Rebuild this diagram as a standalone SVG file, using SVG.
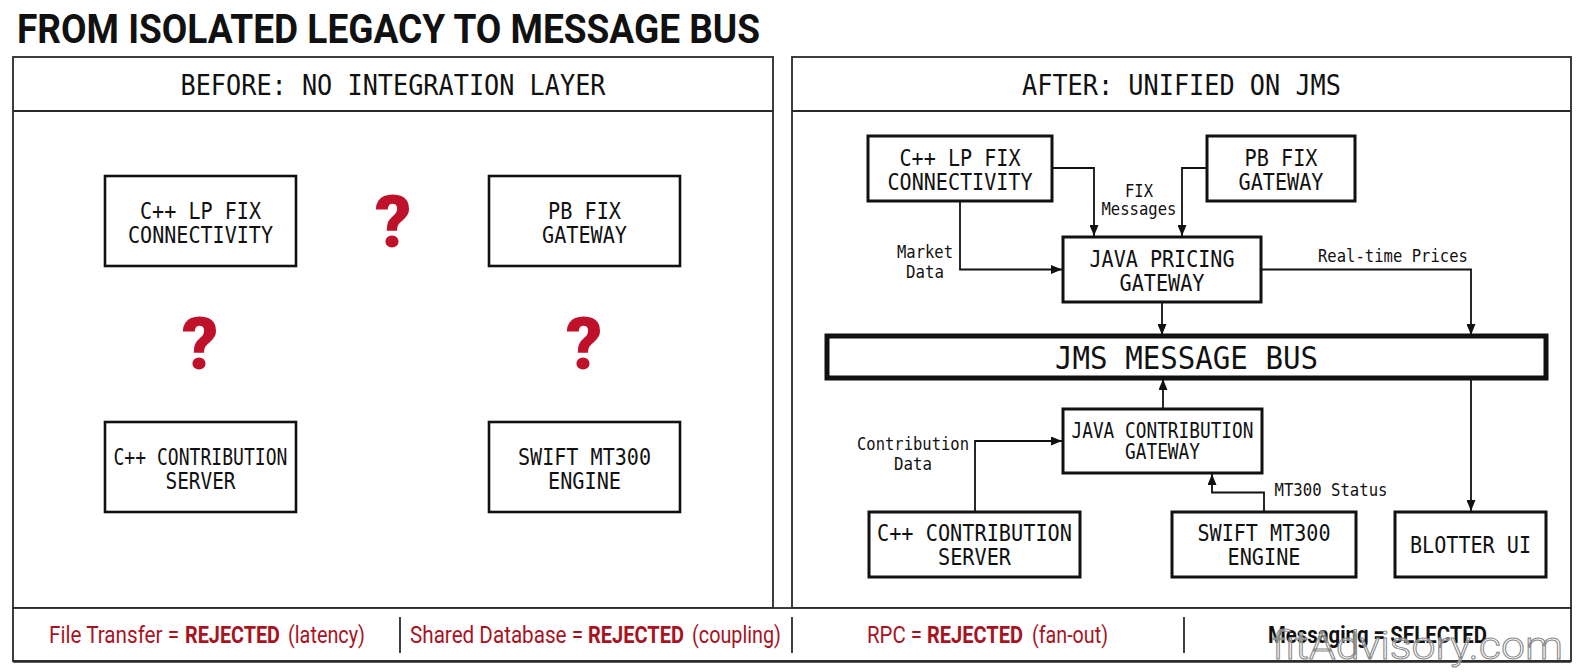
<svg xmlns="http://www.w3.org/2000/svg" width="1584" height="672" viewBox="0 0 1584 672">
<defs>
<marker id="ah" viewBox="0 0 11 9" refX="11" refY="4.5" markerWidth="11" markerHeight="9" markerUnits="userSpaceOnUse" orient="auto"><path d="M0,0 L11,4.5 L0,9 z" fill="#111"/></marker>
<style>
.panel{fill:#fff;stroke:#2a2a2a;stroke-width:1.8}
.line{fill:none;stroke:#2a2a2a;stroke-width:1.8}
.box{fill:#fff;stroke:#111;stroke-width:2.6}
.box3{fill:#fff;stroke:#111;stroke-width:3}
.bus{fill:#fff;stroke:#111;stroke-width:5}
.mono{font-family:"DejaVu Sans Mono","Liberation Mono",monospace;fill:#111;text-anchor:middle}
.hdr{font-size:28px}
.node{font-size:23px}
.small{font-size:20.5px}
.big{font-size:32px}
.lbl{font-size:17.5px}
.conn{fill:none;stroke:#111;stroke-width:1.8}
.q{font-family:Roboto,"Liberation Sans",sans-serif;font-weight:900;font-size:72px;fill:#c0112b;text-anchor:middle}
.foot{font-family:Roboto,"Liberation Sans",sans-serif;font-size:24px;fill:#a8131f}
.b{font-weight:700}
</style>
</defs>
<rect width="1584" height="672" fill="#fff"/>
<text x="17" y="43" font-family="Roboto,'Liberation Sans',sans-serif" font-weight="700" font-size="40" fill="#111" textLength="743" lengthAdjust="spacingAndGlyphs">FROM ISOLATED LEGACY TO MESSAGE BUS</text>

<g id="panel-before">
<rect class="panel" x="13" y="57" width="760" height="551"/>
<line class="line" x1="13" y1="111" x2="773" y2="111"/>
<text class="mono hdr" x="393" y="95" textLength="425" lengthAdjust="spacingAndGlyphs">BEFORE: NO INTEGRATION LAYER</text>
</g>
<g id="panel-after">
<rect class="panel" x="792" y="57" width="779" height="551"/>
<line class="line" x1="792" y1="111" x2="1571" y2="111"/>
<text class="mono hdr" x="1181.5" y="95" textLength="319" lengthAdjust="spacingAndGlyphs">AFTER: UNIFIED ON JMS</text>
</g>

<!-- BEFORE nodes -->
<g id="b-cpp-lp">
<rect class="box" x="105" y="176" width="191" height="90"/>
<text class="mono node" x="200.5" y="219" textLength="121" lengthAdjust="spacingAndGlyphs">C++ LP FIX</text>
<text class="mono node" x="200.5" y="243" textLength="145" lengthAdjust="spacingAndGlyphs">CONNECTIVITY</text>
</g>
<g id="b-pb-fix">
<rect class="box" x="489" y="176" width="191" height="90"/>
<text class="mono node" x="584.5" y="219" textLength="73" lengthAdjust="spacingAndGlyphs">PB FIX</text>
<text class="mono node" x="584.5" y="243" textLength="85" lengthAdjust="spacingAndGlyphs">GATEWAY</text>
</g>
<g id="b-cpp-contrib">
<rect class="box" x="105" y="422" width="191" height="90"/>
<text class="mono node" x="200.5" y="465" textLength="174" lengthAdjust="spacingAndGlyphs">C++ CONTRIBUTION</text>
<text class="mono node" x="200.5" y="489" textLength="70" lengthAdjust="spacingAndGlyphs">SERVER</text>
</g>
<g id="b-swift">
<rect class="box" x="489" y="422" width="191" height="90"/>
<text class="mono node" x="584.5" y="465" textLength="133" lengthAdjust="spacingAndGlyphs">SWIFT MT300</text>
<text class="mono node" x="584.5" y="489" textLength="73" lengthAdjust="spacingAndGlyphs">ENGINE</text>
</g>
<g id="b-questions">
<text class="q" x="393" y="247">?</text>
<text class="q" x="200" y="369">?</text>
<text class="q" x="584" y="369">?</text>
</g>

<!-- AFTER connectors -->
<g id="connectors">
<path class="conn" d="M1052,168 H1094 V236" marker-end="url(#ah)"/>
<path class="conn" d="M1207,168 H1182 V236" marker-end="url(#ah)"/>
<path class="conn" d="M960,201 V269.5 H1062" marker-end="url(#ah)"/>
<path class="conn" d="M1261,269.5 H1471 V335" marker-end="url(#ah)"/>
<path class="conn" d="M1162,302 V335" marker-end="url(#ah)"/>
<path class="conn" d="M1163,409 V379" marker-end="url(#ah)"/>
<path class="conn" d="M1471,379 V511" marker-end="url(#ah)"/>
<path class="conn" d="M975,512 V441 H1062" marker-end="url(#ah)"/>
<path class="conn" d="M1264,512 V492.5 H1212 V474" marker-end="url(#ah)"/>
<text class="mono lbl" x="1139" y="197" textLength="28" lengthAdjust="spacingAndGlyphs">FIX</text>
<text class="mono lbl" x="1139" y="215" textLength="75" lengthAdjust="spacingAndGlyphs">Messages</text>
<text class="mono lbl" x="925" y="258" textLength="56" lengthAdjust="spacingAndGlyphs">Market</text>
<text class="mono lbl" x="925" y="278" textLength="38" lengthAdjust="spacingAndGlyphs">Data</text>
<text class="mono lbl" x="1393" y="262" textLength="150" lengthAdjust="spacingAndGlyphs">Real-time Prices</text>
<text class="mono lbl" x="913" y="450" textLength="112" lengthAdjust="spacingAndGlyphs">Contribution</text>
<text class="mono lbl" x="913" y="470" textLength="38" lengthAdjust="spacingAndGlyphs">Data</text>
<text class="mono lbl" x="1331" y="496" textLength="113" lengthAdjust="spacingAndGlyphs">MT300 Status</text>
</g>

<!-- AFTER nodes -->
<g id="a-cpp-lp">
<rect class="box3" x="868" y="136" width="184" height="65"/>
<text class="mono node" x="960" y="166" textLength="121" lengthAdjust="spacingAndGlyphs">C++ LP FIX</text>
<text class="mono node" x="960" y="190" textLength="145" lengthAdjust="spacingAndGlyphs">CONNECTIVITY</text>
</g>
<g id="a-pb-fix">
<rect class="box3" x="1207" y="136" width="148" height="65"/>
<text class="mono node" x="1281" y="166" textLength="73" lengthAdjust="spacingAndGlyphs">PB FIX</text>
<text class="mono node" x="1281" y="190" textLength="85" lengthAdjust="spacingAndGlyphs">GATEWAY</text>
</g>
<g id="a-java-pricing">
<rect class="box3" x="1063" y="237" width="198" height="65"/>
<text class="mono node" x="1162" y="267" textLength="145" lengthAdjust="spacingAndGlyphs">JAVA PRICING</text>
<text class="mono node" x="1162" y="291" textLength="85" lengthAdjust="spacingAndGlyphs">GATEWAY</text>
</g>
<g id="a-bus">
<rect class="bus" x="827" y="336" width="719" height="42"/>
<text class="mono big" x="1186.5" y="369" textLength="263" lengthAdjust="spacingAndGlyphs">JMS MESSAGE BUS</text>
</g>
<g id="a-java-contrib">
<rect class="box3" x="1063" y="409" width="199" height="64"/>
<text class="mono small" x="1162.5" y="438" textLength="182" lengthAdjust="spacingAndGlyphs">JAVA CONTRIBUTION</text>
<text class="mono small" x="1162.5" y="459" textLength="75" lengthAdjust="spacingAndGlyphs">GATEWAY</text>
</g>
<g id="a-cpp-contrib">
<rect class="box3" x="869" y="512" width="211" height="65"/>
<text class="mono node" x="974.5" y="541" textLength="195" lengthAdjust="spacingAndGlyphs">C++ CONTRIBUTION</text>
<text class="mono node" x="974.5" y="565" textLength="73" lengthAdjust="spacingAndGlyphs">SERVER</text>
</g>
<g id="a-swift">
<rect class="box3" x="1172" y="512" width="184" height="65"/>
<text class="mono node" x="1264" y="541" textLength="133" lengthAdjust="spacingAndGlyphs">SWIFT MT300</text>
<text class="mono node" x="1264" y="565" textLength="73" lengthAdjust="spacingAndGlyphs">ENGINE</text>
</g>
<g id="a-blotter">
<rect class="box3" x="1395" y="512" width="151" height="65"/>
<text class="mono node" x="1470.5" y="553" textLength="121" lengthAdjust="spacingAndGlyphs">BLOTTER UI</text>
</g>

<!-- footer -->
<g id="footer">
<rect x="13" y="608" width="1558" height="53" fill="#fff" stroke="#2a2a2a" stroke-width="1.8"/>
<line x1="13" y1="661.5" x2="1571" y2="661.5" stroke="#2a2a2a" stroke-width="2.5"/>
<line class="line" x1="400" y1="617" x2="400" y2="653"/>
<line class="line" x1="792" y1="617" x2="792" y2="653"/>
<line class="line" x1="1184" y1="617" x2="1184" y2="653"/>
<text class="foot" x="49" y="643" textLength="130" lengthAdjust="spacingAndGlyphs">File Transfer =</text>
<text class="foot b" x="185" y="643" textLength="95" lengthAdjust="spacingAndGlyphs">REJECTED</text>
<text class="foot" x="288" y="643" textLength="77" lengthAdjust="spacingAndGlyphs">(latency)</text>
<text class="foot" x="410" y="643" textLength="173" lengthAdjust="spacingAndGlyphs">Shared Database =</text>
<text class="foot b" x="588" y="643" textLength="96" lengthAdjust="spacingAndGlyphs">REJECTED</text>
<text class="foot" x="692" y="643" textLength="89" lengthAdjust="spacingAndGlyphs">(coupling)</text>
<text class="foot" x="867" y="643" textLength="55" lengthAdjust="spacingAndGlyphs">RPC =</text>
<text class="foot b" x="927" y="643" textLength="96" lengthAdjust="spacingAndGlyphs">REJECTED</text>
<text class="foot" x="1032" y="643" textLength="76" lengthAdjust="spacingAndGlyphs">(fan-out)</text>
<text class="foot b" x="1268" y="643" style="fill:#111" textLength="219" lengthAdjust="spacingAndGlyphs">Messaging = SELECTED</text>
</g>
<text x="1272" y="659" font-family="Roboto,'Liberation Sans',sans-serif" font-weight="300" font-size="38" fill="#fff" fill-opacity="0.5" stroke="#8a8a8a" stroke-width="1" textLength="291" lengthAdjust="spacingAndGlyphs">fitAdvisory.com</text>
</svg>
